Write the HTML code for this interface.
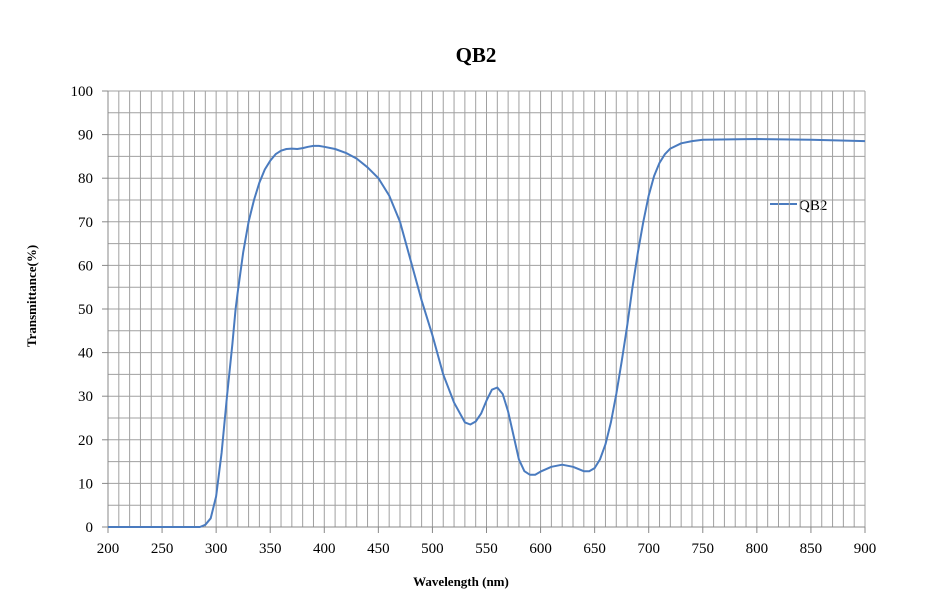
<!DOCTYPE html>
<html><head><meta charset="utf-8"><style>
body{margin:0;background:#fff}
svg text{font-family:"Liberation Serif",serif}
</style></head><body>
<svg id="s" width="925" height="595" xmlns="http://www.w3.org/2000/svg">
<text x="476" y="62" font-size="21" font-weight="bold" text-anchor="middle">QB2</text>
<text x="461" y="586" font-size="13" font-weight="bold" text-anchor="middle">Wavelength (nm)</text>
<text transform="translate(36,296) rotate(-90)" font-size="13" font-weight="bold" text-anchor="middle">Transmittance(%)</text>
<line x1="770" y1="204" x2="797" y2="204" stroke="#4a7bbf" stroke-width="2"/>
<text x="799" y="210" font-size="15">QB2</text>
<g id="g"></g>
</svg>
<script>
var X=function(n){return 108+(n-200)*757/700},Y=function(t){return 527-t*4.36};
var h='';
for(var n=210;n<=900;n+=10)h+='<line x1="'+X(n)+'" y1="91" x2="'+X(n)+'" y2="527" stroke="#a0a0a0" stroke-width="1"/>';
for(var t=5;t<=100;t+=5)h+='<line x1="108" y1="'+Y(t)+'" x2="865" y2="'+Y(t)+'" stroke="#a0a0a0" stroke-width="1"/>';
for(var t=0;t<=100;t+=10){h+='<line x1="102" y1="'+Y(t)+'" x2="108" y2="'+Y(t)+'" stroke="#888"/>';h+='<text x="93" y="'+(Y(t)+5)+'" font-size="15" text-anchor="end">'+t+'</text>';}
for(var n=200;n<=900;n+=50){h+='<line x1="'+X(n)+'" y1="527" x2="'+X(n)+'" y2="533" stroke="#888"/>';h+='<text x="'+X(n)+'" y="553" font-size="15" text-anchor="middle">'+n+'</text>';}
h+='<line x1="108" y1="91" x2="108" y2="527" stroke="#888"/><line x1="108" y1="527" x2="865" y2="527" stroke="#888"/>';
var d=[200,0,285,0,290,0.5,295,2,300,7,305,17,310,30,315,42,318,50,320,54,325,63,330,70,335,75,340,79,345,82,350,84,355,85.5,360,86.3,365,86.7,370,86.8,375,86.7,380,86.9,385,87.2,390,87.4,395,87.4,400,87.2,410,86.7,420,85.8,430,84.5,440,82.5,450,80,460,76,470,70,480,61,490,52,500,44,510,35,520,28.5,530,24,535,23.5,540,24.2,545,26,550,29,555,31.5,560,32,565,30.5,570,26.5,575,21,580,15.5,585,12.8,590,12,595,12,600,12.7,610,13.8,620,14.3,630,13.8,640,12.8,645,12.8,650,13.5,655,15.5,660,19,665,24,670,30.5,675,38,680,46,685,55,690,63,695,70,700,76,705,80.5,710,83.5,715,85.5,720,86.8,730,88,740,88.5,750,88.8,800,89,850,88.8,900,88.5];
var p='M';for(var i=0;i<d.length;i+=2)p+=X(d[i]).toFixed(1)+','+Y(d[i+1]).toFixed(1)+' ';
h+='<path d="'+p+'" fill="none" stroke="#4a7bbf" stroke-width="2" stroke-linejoin="round"/>';
document.getElementById('g').innerHTML=h;
</script>
</body></html>
